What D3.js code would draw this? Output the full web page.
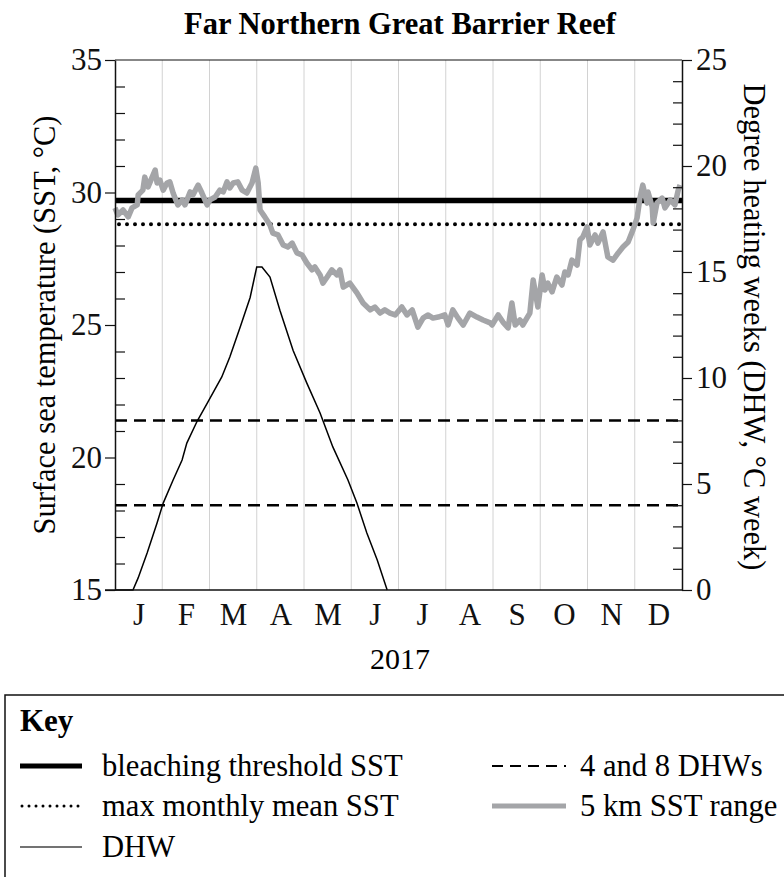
<!DOCTYPE html>
<html>
<head>
<meta charset="utf-8">
<script src="https://cdn.jsdelivr.net/npm/d3@7"></script>
<style>
  body { margin: 0; background: #fff; }
</style>
</head>
<body>
<div id="chart"></div>
<script>
// month labels along the bottom (one per month, evenly spaced)
const months = ["J", "F", "M", "A", "M", "J", "J", "A", "S", "O", "N", "D"];
const sstTicks = [15, 20, 25, 30, 35];
const dhwTicks = [0, 5, 10, 15, 20, 25];

const bleachingThreshold = 29.7;
const maxMonthlyMean = 28.8;
const dhwLevels = [4, 8];

// 5 km SST range, position in months (0 = 1 Jan) and value in °C
const sstMonth = [0.00, 0.06, 0.17, 0.28, 0.36, 0.47, 0.49, 0.59, 0.63, 0.70, 0.78, 0.85, 0.89, 0.95,
  1.02, 1.10, 1.16, 1.23, 1.33, 1.42, 1.48, 1.59, 1.65, 1.76, 1.84, 1.95,
  2.01, 2.12, 2.22, 2.29, 2.37, 2.43, 2.50, 2.60, 2.69, 2.79, 2.90, 2.98,
  3.03, 3.07, 3.17, 3.28, 3.34, 3.45, 3.56, 3.66, 3.75, 3.85, 3.96,
  4.06, 4.17, 4.23, 4.34, 4.40, 4.49, 4.59, 4.70, 4.76, 4.83, 4.97,
  5.12, 5.25, 5.40, 5.50, 5.61, 5.71, 5.82, 5.93,
  6.07, 6.18, 6.29, 6.41, 6.52, 6.62, 6.73, 6.84, 6.98,
  7.05, 7.15, 7.26, 7.37, 7.51, 7.66, 7.79, 7.94, 7.98,
  8.11, 8.21, 8.32, 8.40, 8.47, 8.57, 8.63, 8.78, 8.85, 8.95,
  9.04, 9.10, 9.16, 9.25, 9.35, 9.46, 9.52, 9.59, 9.67, 9.78, 9.84, 9.90, 9.99,
  10.05, 10.16, 10.22, 10.33, 10.43, 10.54, 10.65, 10.75, 10.86, 10.96,
  11.05, 11.11, 11.17, 11.26, 11.28, 11.37, 11.39, 11.47, 11.58, 11.64, 11.75, 11.85, 11.92, 11.96];
const sstValue = [29.42, 29.15, 29.34, 29.08, 29.42, 29.53, 29.91, 30.09, 30.58, 30.21, 30.55, 30.85, 30.36, 30.47,
  30.09, 30.36, 30.40, 29.98, 29.53, 29.72, 29.53, 30.02, 29.91, 30.28, 29.98, 29.53,
  29.72, 29.83, 30.09, 30.02, 30.40, 30.17, 30.36, 30.40, 30.09, 29.98, 30.36, 30.92,
  30.36, 29.34, 29.08, 28.77, 28.47, 28.40, 28.02, 27.94, 28.09, 27.72, 27.64,
  27.34, 27.08, 27.19, 26.89, 26.58, 26.81, 27.08, 26.89, 27.08, 26.43, 26.58,
  26.21, 25.83, 25.57, 25.68, 25.45, 25.57, 25.45, 25.38,
  25.68, 25.38, 25.57, 24.92, 25.26, 25.38, 25.26, 25.30, 25.38,
  25.00, 25.57, 25.26, 25.00, 25.45, 25.30, 25.19, 25.08, 25.00,
  25.38, 25.11, 24.89, 25.83, 25.00, 25.19, 25.00, 25.45, 26.70, 25.68,
  26.89, 26.32, 26.58, 26.25, 26.81, 26.51, 27.00, 26.89, 27.45, 27.26, 28.21, 28.32, 28.70,
  28.02, 28.40, 28.09, 28.51, 27.57, 27.45, 27.72, 27.94, 28.13, 28.58,
  29.04, 29.79, 30.28, 29.60, 30.02, 29.45, 28.85, 29.60, 29.79, 29.42, 29.72, 29.53, 30.09, 30.28];

// degree heating weeks
const dhwMonth = [0.00, 0.38, 0.49, 0.68, 0.89, 1.02, 1.23, 1.42, 1.52, 1.74, 1.95, 2.26, 2.43, 2.65, 2.86,
  3.00, 3.11, 3.28, 3.49, 3.77, 4.06, 4.34, 4.61, 4.93, 5.12, 5.33, 5.55, 5.76];
const dhwValue = [0, 0, 0.57, 1.75, 3.16, 4.10, 5.19, 6.13, 6.93, 7.97, 8.80, 10.05, 10.99, 12.41, 13.80,
  15.24, 15.24, 14.76, 13.20, 11.30, 9.76, 8.35, 6.75, 5.19, 4.10, 2.69, 1.42, 0];

const serif = "'Liberation Serif', 'Tinos', 'DejaVu Serif', serif";
const config = { width: 784, height: 877, left: 115, right: 102, top: 60, bottom: 287 };
const plotRight = config.width - config.right;
const plotBottom = config.height - config.bottom;

const svg = d3.select("#chart").append("svg")
  .attr("width", config.width)
  .attr("height", config.height)
  .attr("font-family", serif);

const x = d3.scaleLinear().domain([0, 12]).range([config.left, plotRight]);
const ySst = d3.scaleLinear().domain([15, 35]).range([plotBottom, config.top]);
const yDhw = d3.scaleLinear().domain([0, 25]).range([plotBottom, config.top]);

// title
svg.append("text")
  .attr("x", 400).attr("y", 34)
  .attr("text-anchor", "middle")
  .attr("font-size", 30.5).attr("font-weight", "bold")
  .text("Far Northern Great Barrier Reef");

// month gridlines
svg.append("g")
  .selectAll("line")
  .data(d3.range(1, 12))
  .join("line")
  .attr("x1", d => x(d)).attr("x2", d => x(d))
  .attr("y1", config.top).attr("y2", plotBottom)
  .attr("stroke", "#d2d2d2").attr("stroke-width", 1);

// top border
svg.append("line")
  .attr("x1", config.left).attr("x2", plotRight)
  .attr("y1", config.top).attr("y2", config.top)
  .attr("stroke", "#111").attr("stroke-width", 1.2);

// threshold lines
svg.append("line")
  .attr("x1", x(0)).attr("x2", x(12))
  .attr("y1", ySst(bleachingThreshold)).attr("y2", ySst(bleachingThreshold))
  .attr("stroke", "#000").attr("stroke-width", 5.5);

svg.append("line")
  .attr("x1", x(0) + 4).attr("x2", x(12))
  .attr("y1", ySst(maxMonthlyMean)).attr("y2", ySst(maxMonthlyMean))
  .attr("stroke", "#000").attr("stroke-width", 4)
  .attr("stroke-linecap", "round")
  .attr("stroke-dasharray", "0,8");

svg.append("g")
  .selectAll("line")
  .data(dhwLevels)
  .join("line")
  .attr("x1", x(0)).attr("x2", x(12))
  .attr("y1", d => yDhw(d)).attr("y2", d => yDhw(d))
  .attr("stroke", "#000").attr("stroke-width", 2.5)
  .attr("stroke-dasharray", "12,7");

// SST range
const sstLine = d3.line()
  .x((d, i) => x(sstMonth[i]))
  .y(d => ySst(d));

svg.append("path")
  .datum(sstValue)
  .attr("d", sstLine)
  .attr("fill", "none")
  .attr("stroke", "#a4a5a8")
  .attr("stroke-width", 5.5)
  .attr("stroke-linejoin", "round");

// DHW
const dhwLine = d3.line()
  .x((d, i) => x(dhwMonth[i]))
  .y(d => yDhw(d));

svg.append("path")
  .datum(dhwValue)
  .attr("d", dhwLine)
  .attr("fill", "none")
  .attr("stroke", "#000")
  .attr("stroke-width", 1.5);

// left axis: major ticks outward, minor ticks inward
const minorSst = d3.range(15, 36).filter(d => d % 5 !== 0);
const minorDhw = d3.range(0, 26).filter(d => d % 5 !== 0);

const leftAxis = svg.append("g")
  .attr("transform", `translate(${config.left},0)`)
  .call(d3.axisLeft(ySst).tickValues(sstTicks).tickSize(10).tickSizeOuter(0).tickPadding(3));
svg.append("g")
  .attr("transform", `translate(${config.left},0)`)
  .call(d3.axisRight(ySst).tickValues(minorSst).tickSize(10).tickFormat(""))
  .call(g => g.select(".domain").remove());

const rightAxis = svg.append("g")
  .attr("transform", `translate(${plotRight},0)`)
  .call(d3.axisRight(yDhw).tickValues(dhwTicks).tickSize(10).tickSizeOuter(0).tickPadding(4));
svg.append("g")
  .attr("transform", `translate(${plotRight},0)`)
  .call(d3.axisLeft(yDhw).tickValues(minorDhw).tickSize(9).tickFormat(""))
  .call(g => g.select(".domain").remove());

// bottom axis, month labels centred in each month
const bottomAxis = svg.append("g")
  .attr("transform", `translate(0,${plotBottom})`)
  .call(d3.axisBottom(x).tickValues(d3.range(0.5, 12, 1)).tickSize(0).tickSizeOuter(0)
    .tickFormat((d, i) => months[i]));
bottomAxis.selectAll("text").attr("y", 35).attr("dy", null);
bottomAxis.select(".domain").attr("d", `M${config.left - 10},0H${plotRight}`);

svg.selectAll("g").attr("font-family", serif);
[leftAxis, rightAxis, bottomAxis].forEach(g => {
  g.attr("font-size", 31);
  g.selectAll("text").attr("fill", "#111");
});
svg.selectAll(".domain").attr("stroke", "#111").attr("stroke-width", 1.5);
svg.selectAll(".tick line").attr("stroke", "#111").attr("stroke-width", 1.2);

// axis titles
svg.append("text")
  .attr("x", 400).attr("y", 669)
  .attr("text-anchor", "middle").attr("font-size", 30)
  .text("2017");

svg.append("text")
  .attr("transform", `translate(55,${(config.top + plotBottom) / 2}) rotate(-90)`)
  .attr("text-anchor", "middle").attr("font-size", 30.5)
  .text("Surface sea temperature (SST, °C)");

svg.append("text")
  .attr("transform", `translate(744,${(config.top + plotBottom) / 2 + 2}) rotate(90)`)
  .attr("text-anchor", "middle").attr("font-size", 30.5)
  .text("Degree heating weeks (DHW, °C week)");

// key
const key = svg.append("g");
key.append("rect")
  .attr("x", 5).attr("y", 695)
  .attr("width", 820).attr("height", 220)
  .attr("fill", "none").attr("stroke", "#111").attr("stroke-width", 1.5);
key.append("text")
  .attr("x", 20).attr("y", 731)
  .attr("font-size", 31).attr("font-weight", "bold")
  .text("Key");

const keyItems = [
  { label: "bleaching threshold SST", col: 0, row: 0, stroke: "#000", width: 5, dash: null, cap: "butt" },
  { label: "max monthly mean SST", col: 0, row: 1, stroke: "#000", width: 3, dash: "0,7", cap: "round" },
  { label: "DHW", col: 0, row: 2, stroke: "#444", width: 1.3, dash: null, cap: "butt" },
  { label: "4 and 8 DHWs", col: 1, row: 0, stroke: "#000", width: 2, dash: "11,7", cap: "butt" },
  { label: "5 km SST range", col: 1, row: 1, stroke: "#a4a5a8", width: 5, dash: null, cap: "butt" }
];
const colX = [20, 492];
const rowY = [766, 806, 847];

keyItems.forEach(k => {
  const x0 = colX[k.col];
  const y0 = rowY[k.row];
  key.append("line")
    .attr("x1", x0 + (k.dash === "0,7" ? 2 : 0)).attr("x2", k.col === 0 ? 82 : 566)
    .attr("y1", y0).attr("y2", y0)
    .attr("stroke", k.stroke).attr("stroke-width", k.width)
    .attr("stroke-dasharray", k.dash)
    .attr("stroke-linecap", k.cap);
  key.append("text")
    .attr("x", k.col === 0 ? 102 : 580).attr("y", y0 + 10)
    .attr("font-size", 30.6)
    .text(k.label);
});
</script>
</body>
</html>
